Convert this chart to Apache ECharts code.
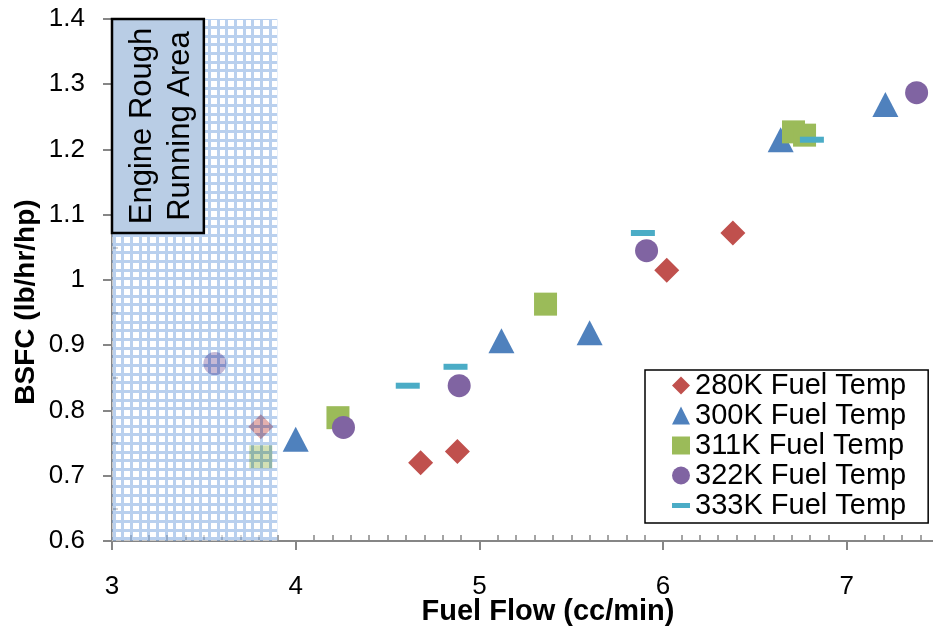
<!DOCTYPE html>
<html>
<head>
<meta charset="utf-8">
<script src="https://cdn.jsdelivr.net/npm/echarts@6/dist/echarts.min.js"></script>
<style>
  html, body { margin: 0; padding: 0; background: #ffffff; }
  #chart { width: 933px; height: 634px; }
</style>
</head>
<body>
<div id="chart"></div>
<script>
// BSFC measurements per fuel temperature: [fuel flow (cc/min), BSFC (lb/hr/hp)]
const seriesNames = ['280K Fuel Temp', '300K Fuel Temp', '311K Fuel Temp', '322K Fuel Temp', '333K Fuel Temp'];
const temp280 = [[3.81, 0.775], [4.68, 0.720], [4.88, 0.737], [6.02, 1.015], [6.38, 1.072]];
const temp300 = [[4.00, 0.756], [5.12, 0.907], [5.60, 0.919], [6.64, 1.215], [7.21, 1.269]];
const temp311 = [[3.81, 0.729], [4.23, 0.789], [5.36, 0.963], [6.71, 1.227], [6.77, 1.222]];
const temp322 = [[3.56, 0.872], [4.26, 0.774], [4.89, 0.838], [5.91, 1.045], [7.38, 1.287]];
const temp333 = [[4.61, 0.838], [4.87, 0.867], [5.89, 1.072], [6.81, 1.215]];

// Axis ranges and tick steps
const xRange = [3, 8];
const xStep = 1;
const yRange = [0.6, 1.4];
const yStep = 0.1;

// Rough-running zone [x0, y0, x1, y1] and its label box
const roughZone = [3.0, 0.6, 3.9, 1.4];
const noteBox = [3.0, 1.4, 3.5, 1.072];
const noteText = 'Engine Rough\nRunning Area';

const FONT = '"Liberation Sans", Arial, sans-serif';
const AXIS_GREY = '#868686';

// Semi-transparent grid texture used over the rough-running zone
function makeHatch() {
  const size = 26;
  const c = document.createElement('canvas');
  c.width = size; c.height = size;
  const g = c.getContext('2d');
  g.fillStyle = 'rgba(138,176,227,0.6)';
  g.fillRect(0, 0, size, size);
  const starts = [3, 12, 20];
  const ends = [9, 17, 26];
  g.fillStyle = 'rgba(255,255,255,0.55)';
  for (let i = 0; i < 3; i++) {
    for (let j = 0; j < 3; j++) {
      const x = starts[i], y = starts[j];
      const w = ends[i] - starts[i], h = ends[j] - starts[j];
      g.clearRect(x, y, w, h);
      g.fillRect(x, y, w, h);
    }
  }
  return c;
}
const hatch = makeHatch();

const chart = echarts.init(document.getElementById('chart'), null, { renderer: 'canvas' });

const gridBox = { left: 112, top: 19, width: 918.5, height: 522, outerBoundsMode: 'none', containLabel: false };

function scatter(name, data, symbol, size, color) {
  return {
    type: 'scatter', name: name, data: data,
    xAxisIndex: 0, yAxisIndex: 0,
    symbol: symbol, symbolSize: size,
    itemStyle: { color: color, opacity: 1 },
    z: 2, silent: true, animation: false
  };
}

const option = {
  animation: false,
  backgroundColor: '#ffffff',
  grid: [
    Object.assign({}, gridBox),
    Object.assign({}, gridBox)
  ],
  xAxis: [
    {
      type: 'value', gridIndex: 0, position: 'bottom',
      min: xRange[0], max: xRange[1], interval: xStep,
      axisLine: { show: true, onZero: false, lineStyle: { color: AXIS_GREY, width: 2 } },
      axisTick: { show: true, inside: false, length: 9, lineStyle: { color: AXIS_GREY, width: 2 } },
      axisLabel: { show: true, margin: 33, color: '#000', fontSize: 26, fontFamily: FONT },
      splitLine: { show: false }
    },
    {
      type: 'value', gridIndex: 1, position: 'bottom',
      min: xRange[0], max: xRange[1], interval: xStep,
      axisLine: { show: false, onZero: false },
      axisTick: { show: false, inside: true },
      minorTick: { show: true, splitNumber: 10, length: 6, lineStyle: { color: AXIS_GREY, width: 1.5 } },
      axisLabel: { show: false },
      splitLine: { show: false }
    }
  ],
  yAxis: [
    {
      type: 'value', gridIndex: 0, position: 'left',
      min: yRange[0], max: yRange[1], interval: yStep,
      axisLine: { show: true, onZero: false, lineStyle: { color: AXIS_GREY, width: 2 } },
      axisTick: { show: true, inside: false, length: 9, lineStyle: { color: AXIS_GREY, width: 2 } },
      axisLabel: { show: true, margin: 27, color: '#000', fontSize: 26, fontFamily: FONT },
      splitLine: { show: false }
    },
    {
      type: 'value', gridIndex: 1, position: 'left',
      min: yRange[0], max: yRange[1], interval: yStep,
      axisLine: { show: false, onZero: false },
      axisTick: { show: false, inside: true },
      minorTick: { show: true, splitNumber: 2, length: 6, lineStyle: { color: AXIS_GREY, width: 1.5 } },
      axisLabel: { show: false },
      splitLine: { show: false }
    }
  ],
  legend: {
    orient: 'vertical',
    left: 645, top: 370,
    itemWidth: 18, itemHeight: 18, itemGap: 1,
    padding: [1, 22, 3, 27],
    borderColor: '#000', borderWidth: 1.5, borderRadius: 0,
    backgroundColor: '#ffffff',
    textStyle: { color: '#000', fontSize: 29, fontFamily: FONT },
    selectedMode: false,
    data: [
      { name: seriesNames[0], icon: 'diamond' },
      { name: seriesNames[1], icon: 'triangle' },
      { name: seriesNames[2], icon: 'rect' },
      { name: seriesNames[3], icon: 'circle' },
      { name: seriesNames[4], icon: 'path://M0,0h18v5h-18z' }
    ]
  },
  graphic: [
    {
      type: 'text', x: 548, y: 612, silent: true,
      style: { text: 'Fuel Flow (cc/min)', fill: '#000', font: 'bold 29px ' + FONT, align: 'center', verticalAlign: 'middle' }
    },
    {
      type: 'text', x: 26, y: 302, rotation: Math.PI / 2, silent: true,
      style: { text: 'BSFC (lb/hr/hp)', fill: '#000', font: 'bold 28px ' + FONT, align: 'center', verticalAlign: 'middle' }
    }
  ],
  series: [
    scatter(seriesNames[0], temp280, 'diamond', 25, '#c0504d'),
    scatter(seriesNames[1], temp300, 'triangle', [26, 25], '#4f81bd'),
    scatter(seriesNames[2], temp311, 'rect', 23, '#9bbb59'),
    scatter(seriesNames[3], temp322, 'circle', 23, '#8064a2'),
    scatter(seriesNames[4], temp333, 'rect', [24, 6], '#4bacc6'),
    {
      type: 'custom', name: 'rough zone', coordinateSystem: 'cartesian2d',
      xAxisIndex: 0, yAxisIndex: 0, z: 5, silent: true,
      data: [roughZone],
      renderItem: function (params, api) {
        const a = api.coord([api.value(0), api.value(3)]);
        const b = api.coord([api.value(2), api.value(1)]);
        return {
          type: 'rect',
          shape: { x: a[0], y: a[1], width: b[0] - a[0], height: b[1] - a[1] },
          style: { fill: { image: hatch, repeat: 'repeat' }, stroke: null }
        };
      }
    },
    {
      type: 'custom', name: 'zone note', coordinateSystem: 'cartesian2d',
      xAxisIndex: 0, yAxisIndex: 0, z: 6, silent: true,
      data: [noteBox],
      renderItem: function (params, api) {
        const a = api.coord([api.value(0), api.value(1)]);
        const b = api.coord([api.value(2), api.value(3)]);
        return {
          type: 'group',
          children: [
            {
              type: 'rect',
              shape: { x: a[0], y: a[1], width: b[0] - a[0], height: b[1] - a[1] },
              style: { fill: '#b9cde5', stroke: '#000', lineWidth: 2.5 }
            },
            {
              type: 'text',
              x: (a[0] + b[0]) / 2 + 4, y: (a[1] + b[1]) / 2,
              rotation: Math.PI / 2,
              style: {
                text: noteText, fill: '#000', fontSize: 31, fontFamily: FONT,
                align: 'center', verticalAlign: 'middle', lineHeight: 38
              }
            }
          ]
        };
      }
    }
  ]
};

chart.setOption(option);
</script>
</body>
</html>
